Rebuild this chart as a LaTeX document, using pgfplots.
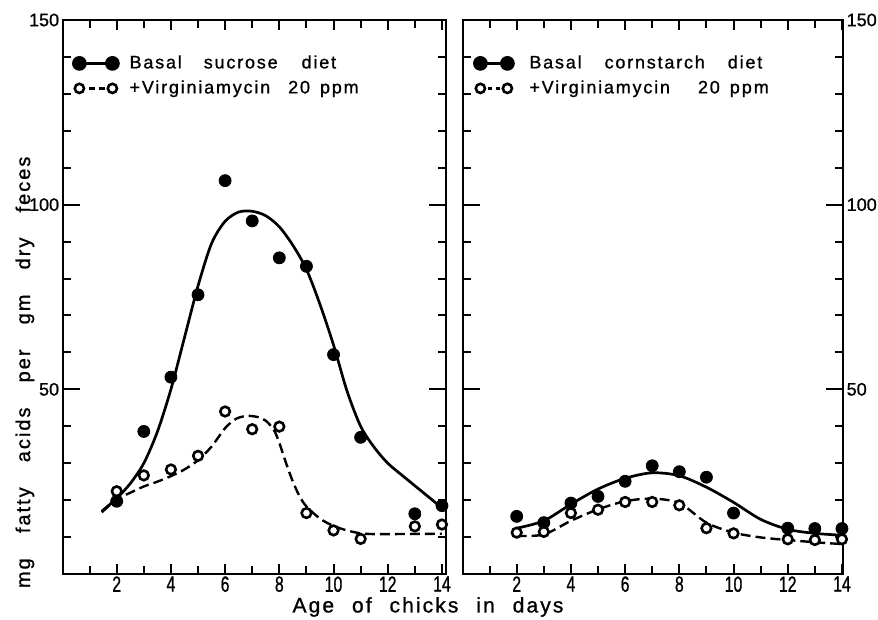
\documentclass[border=0pt]{standalone}
\usepackage{fontspec}
\setmainfont{Liberation Sans}[FakeBold=1]
\newfontfamily\spc{Liberation Sans}[LetterSpace=10, FakeBold=1]
\usepackage{pgfplots}
\pgfplotsset{compat=1.18}

\pgfplotsset{
  panel/.style={
    scale only axis,
    height=277pt,
    xmin=0, ymin=0, ymax=150,
    axis line style={line width=1pt},
    major tick length=5pt,
    minor tick length=4pt,
    every tick/.append style={black, line width=1pt},
    every minor tick/.append style={black, line width=1pt},
    xtick={0,2,...,14},
    xticklabels={,2,4,6,8,10,12,14},
    minor x tick num=1,
    ytick={0,50,100,150},
    yticklabels={,50,100,150},
    minor y tick num=4,
    extra y ticks={50,100},
    extra y tick labels={},
    extra y tick style={major tick length=8.5pt},
    /pgf/number format/assume math mode=true,
    xticklabel style={font=\fontsize{11}{11}\selectfont, xscale=0.72, inner sep=1pt},
    yticklabel style={font=\fontsize{9}{9}\selectfont, inner sep=1.5pt},
    clip=false,
    legend cell align=left,
    legend style={draw=none, fill=none, anchor=north west,
      at={(axis description cs:0,1)}, inner sep=0pt,
      row sep=0.5pt,
      nodes={inner sep=1pt, text height=7.5pt, text depth=2.5pt},
      font=\fontsize{9}{9}\selectfont\spc},
  },
  fitline/.style={black, line width=1.35pt, smooth, mark=none},
  fitdash/.style={black, line width=1.2pt, smooth, mark=none, dash pattern=on 5pt off 2.5pt},
  fullpts/.style={only marks, mark=*, mark size=3pt, mark options={black, fill=black, line width=0.4pt}},
  openpts/.style={only marks, mark=*, mark size=2.4pt, mark options={black, fill=white, line width=1.3pt}},
}

\begin{document}
\begin{tikzpicture}
\path[use as bounding box] (0,0) rectangle (439pt,310pt);

% left panel: sucrose diet
\begin{axis}[panel, at={(31.25pt,23pt)}, anchor=south west,
  width=191.75pt, xmax=14.15,
  legend style={xshift=5.25pt, yshift=-15.5pt, column sep=4.6pt},
  legend image code/.code={\draw[#1] plot coordinates {(0pt,0pt) (16.5pt,0pt)};},
  xlabel={\spc Age\hspace{5pt} of\hspace{5pt} chicks\hspace{5pt} in\hspace{5pt} days},
  xlabel style={font=\fontsize{10.5}{10.5}\selectfont, at={(axis description cs:0.953,0)}, anchor=center, yshift=-16.5pt},
  ylabel={\spc mg\hspace{8.8pt} fatty\hspace{8.8pt} acids\hspace{8.8pt} per\hspace{8.8pt} gm\hspace{8.8pt} dry\hspace{8.8pt} feces},
  ylabel style={font=\fontsize{10}{10}\selectfont, at={(axis description cs:-0.098,0.364)}, anchor=center},
]
\addlegendimage{black, line width=1.35pt, mark=*, mark size=3pt, mark options={solid, fill=black}}
\addlegendentry{Basal\hspace{11pt}sucrose\hspace{12pt}diet}
\addlegendimage{black, line width=1.2pt, dash pattern=on 3pt off 2pt, mark=*, mark size=2.3pt, mark options={solid, fill=white, line width=1.3pt}}
\addlegendentry{+Virginiamycin\hspace{9pt}20\hspace{5pt}ppm}

\addplot[fitline, forget plot] coordinates {
  (1.45,17) (2,20.5) (2.5,24.5) (3,30) (3.5,38.5) (4,50) (4.5,64) (5,78)
  (5.5,89.5) (6,95.5) (6.5,98) (7,98.2) (7.5,97) (8,94) (8.5,89) (9,82.5)
  (9.5,73) (10,62) (10.5,49.5) (11,40) (11.5,34.3) (12,30) (12.5,26.9)
  (13,23.9) (13.5,20.9) (14,17.9)};
\addplot[fitdash, forget plot] coordinates {
  (1.45,16.7) (2,20.2) (2.5,22) (3,23.7) (3.5,25) (4,26.5) (4.5,28.3)
  (5,30.8) (5.5,34.5) (6,39.5) (6.4,42) (6.8,42.8) (7.2,42.5) (7.5,41.5)
  (7.8,39) (8,35.5) (8.25,30) (8.5,25) (8.75,21) (9,18.3) (9.5,15) (10,13)
  (10.5,11.8) (11,11) (11.5,10.8) (12,10.8) (14,10.9)};
\addplot[fullpts, forget plot] coordinates {
  (2,19.7) (3,38.6) (4,53.3) (5,75.6) (6,106.5) (7,95.6) (8,85.6) (9,83.3)
  (10,59.4) (11,37.0) (13,16.3) (14,18.5)};
\addplot[openpts, forget plot] coordinates {
  (2,22.4) (3,26.7) (4,28.3) (5,32.0) (6,44.0) (7,39.2) (8,39.9) (9,16.5)
  (10,11.8) (11,9.5) (13,12.9) (14,13.4)};
\end{axis}

% right panel: cornstarch diet
\begin{axis}[panel, at={(231.25pt,23pt)}, anchor=south west,
  width=190.4pt, xmax=14.05,
  yticklabel pos=right,
  legend style={xshift=5.75pt, yshift=-15.5pt, column sep=7pt},
  legend image code/.code={\draw[#1] plot coordinates {(0pt,0pt) (13.5pt,0pt)};},
]
\addlegendimage{black, line width=1.35pt, mark=*, mark size=3pt, mark options={solid, fill=black}}
\addlegendentry{Basal\hspace{11.5pt}cornstarch\hspace{11.5pt}diet}
\addlegendimage{black, line width=1.2pt, dash pattern=on 2pt off 2pt, mark=*, mark size=2.3pt, mark options={solid, fill=white, line width=1.3pt}}
\addlegendentry{+Virginiamycin\hspace{14pt}20\hspace{5pt}p\hspace{1pt}p\hspace{1pt}m}

\addplot[fitline, forget plot] coordinates {
  (2,12.4) (3,14.4) (4,18.9) (5,23) (6,25.9) (7,27.4) (8,26.6) (9,23.5)
  (10,19.4) (11,14.8) (12,12.1) (13,11) (14,10.5)};
\addplot[fitdash, forget plot] coordinates {
  (2,10.3) (3,10.7) (4,14.4) (5,17.5) (6,19.7) (7,20.4) (8,19.2) (9,13.9)
  (10,11.2) (11,9.9) (12,9.2) (13,8.6) (14,8.1)};
\addplot[fullpts, forget plot] coordinates {
  (2,15.6) (3,13.9) (4,19.2) (5,21.0) (6,25.1) (7,29.3) (8,27.7) (9,26.2)
  (10,16.5) (12,12.4) (13,12.3) (14,12.3)};
\addplot[openpts, forget plot] coordinates {
  (2,11.2) (3,11.4) (4,16.5) (5,17.4) (6,19.5) (7,19.5) (8,18.6) (9,12.4)
  (10,11.0) (12,9.4) (13,9.2) (14,9.4)};
\end{axis}
\end{tikzpicture}
\end{document}
